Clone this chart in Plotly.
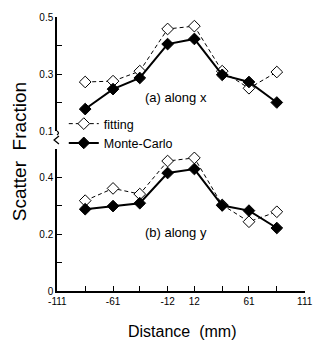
import plotly.graph_objects as go

# ---- data ----
distance = [-86, -61, -37, -12, 12, 37, 61, 86]
fit_x = [0.272, 0.275, 0.31, 0.458, 0.468, 0.31, 0.25, 0.307]
mc_x = [0.177, 0.247, 0.286, 0.405, 0.423, 0.297, 0.272, 0.20]
fit_y = [0.317, 0.36, 0.34, 0.456, 0.467, 0.302, 0.243, 0.278]
mc_y = [0.287, 0.298, 0.308, 0.414, 0.428, 0.30, 0.282, 0.221]

x_tickvals = [-111, -86, -61, -37, -12, 12, 37, 61, 86, 111]
x_ticktext = ["-111", "", "-61", "", "-12", "12", "", "61", "", "111"]
up_tickvals = [0.1, 0.2, 0.3, 0.4, 0.5]
up_ticktext = ["0.1", "", "0.3", "", "0.5"]
lo_tickvals = [0, 0.1, 0.2, 0.3, 0.4, 0.5]
lo_ticktext = ["0", "", "0.2", "", "0.4", ""]

# ---- geometry helpers (pixel -> paper) ----
L, R, T, B = 57, 313, 17, 291
W, H = R - L, B - T
def px(x):
    return (x - L) / W
def py(y):
    return (B - y) / H

FONT = "Liberation Sans, Arial, sans-serif"

fig = go.Figure()

fit_style = dict(mode="lines+markers",
                 line=dict(color="black", width=1, dash="4px,3px"),
                 marker=dict(symbol="diamond", size=9, color="white",
                             line=dict(color="black", width=1)))
mc_style = dict(mode="lines+markers",
                line=dict(color="black", width=2),
                marker=dict(symbol="diamond", size=9, color="black",
                            line=dict(color="black", width=1)))

fig.add_trace(go.Scatter(x=distance, y=fit_x, name="fitting", xaxis="x", yaxis="y",
                         showlegend=True, **fit_style))
fig.add_trace(go.Scatter(x=distance, y=mc_x, name="Monte-Carlo", xaxis="x", yaxis="y",
                         showlegend=True, **mc_style))
fig.add_trace(go.Scatter(x=distance, y=fit_y, name="fitting", xaxis="x", yaxis="y2",
                         showlegend=False, **fit_style))
fig.add_trace(go.Scatter(x=distance, y=mc_y, name="Monte-Carlo", xaxis="x", yaxis="y2",
                         showlegend=False, **mc_style))

axis_common = dict(showgrid=False, zeroline=False, showline=True, linecolor="black",
                   linewidth=1.5, ticks="inside", ticklen=5, tickcolor="black",
                   tickwidth=1, tickfont=dict(family=FONT, size=10, color="black"))

fig.update_layout(
    width=321, height=342,
    margin=dict(l=L, r=321 - R, t=T, b=342 - B, pad=0),
    paper_bgcolor="white", plot_bgcolor="white",
    font=dict(family=FONT, color="black"),
    xaxis=dict(domain=[0, 1], range=[-111.3, 111.3], anchor="y2",
               tickmode="array", tickvals=x_tickvals, ticktext=x_ticktext,
               ticklabeloverflow="allow",
               **axis_common),
    yaxis=dict(domain=[py(131), 1], range=[0.1, 0.5], anchor="x",
               tickmode="array", tickvals=up_tickvals, ticktext=up_ticktext,
               **axis_common),
    yaxis2=dict(domain=[0, py(148.5)], range=[0, 0.5], anchor="x",
                tickmode="array", tickvals=lo_tickvals, ticktext=lo_ticktext,
                **axis_common),
    legend=dict(x=px(64), y=py(109), xanchor="left", yanchor="top",
                bgcolor="rgba(0,0,0,0)", font=dict(family=FONT, size=12.5, color="black"),
                tracegroupgap=0, itemwidth=30),
    showlegend=True,
    annotations=[
        dict(text="(a) along x", xref="paper", yref="paper", x=px(146), y=py(97),
             xanchor="left", yanchor="middle", showarrow=False,
             font=dict(family=FONT, size=13, color="black")),
        dict(text="(b) along y", xref="paper", yref="paper", x=px(146), y=py(232),
             xanchor="left", yanchor="middle", showarrow=False,
             font=dict(family=FONT, size=13, color="black")),
        dict(text="Scatter  Fraction", xref="paper", yref="paper", x=px(18), y=py(152),
             xanchor="center", yanchor="middle", textangle=-90, showarrow=False,
             font=dict(family=FONT, size=19, color="black")),
        dict(text="Distance  (mm)", xref="paper", yref="paper", x=px(186), y=py(331),
             xanchor="center", yanchor="middle", showarrow=False,
             font=dict(family=FONT, size=16, color="black")),
    ],
    shapes=[
        dict(type="path", xref="paper", yref="paper",
             path=f"M {px(57)} {py(131)} Q {px(60)} {py(133)} {px(57)} {py(135)}",
             line=dict(color="black", width=1.3)),
        dict(type="path", xref="paper", yref="paper",
             path=f"M {px(59)} {py(136)} L {px(54)} {py(140)} L {px(59)} {py(144)}",
             line=dict(color="black", width=1.3)),
    ],
)

fig.write_html("out.html", config={"displayModeBar": False},
               post_script="document.body.style.margin='0';document.body.style.overflow='hidden';")
